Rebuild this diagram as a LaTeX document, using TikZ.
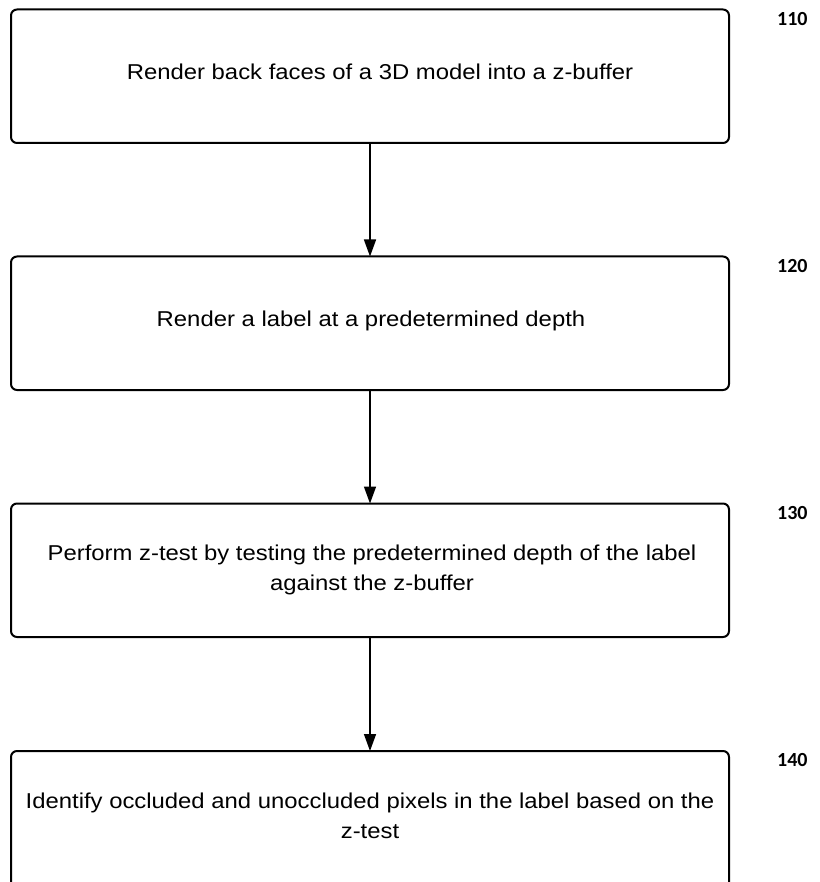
\documentclass[tikz,border=0pt]{standalone}
\usepackage{fontspec}
\setmainfont{Liberation Sans}
\newfontfamily\boxfont[FakeStretch=1.11]{Liberation Sans}
\newfontfamily\numfont{Carlito}
\usetikzlibrary{arrows.meta}
\begin{document}
\begin{tikzpicture}[x=1pt,y=-1pt,
  stepbox/.style={draw=black,line width=2pt,rounded corners=6pt},
  txt/.style={font=\boxfont\fontsize{21.5}{30}\selectfont,align=center,inner sep=0pt},
  num/.style={font=\numfont\bfseries\fontsize{20}{24}\selectfont,anchor=west,inner sep=0pt},
  arr/.style={line width=1.5pt,-{Triangle[length=17pt,width=12pt]}}]
\useasboundingbox (0,0) rectangle (819,882);
\begin{scope}
\clip (0,0) rectangle (819,882);
\draw[stepbox] (11,9.5) rectangle (729,143);
\draw[stepbox] (11,256.5) rectangle (729,390);
\draw[stepbox] (11,503.5) rectangle (729,637);
\draw[stepbox] (11,751) rectangle (729,890);
\end{scope}
\coordinate (b1b) at (370,143);
\coordinate (b2t) at (370,256.5);
\coordinate (b2b) at (370,390);
\coordinate (b3t) at (370,503.5);
\coordinate (b3b) at (370,637);
\coordinate (b4t) at (370,751);
\draw[arr] (b1b) -- (b2t);
\draw[arr] (b2b) -- (b3t);
\draw[arr] (b3b) -- (b4t);
\node[txt,anchor=base] (t1) at (380,79.3) {Render back faces of a 3D model into a z-buffer};
\node[txt,anchor=base] (t2) at (371,326.3) {Render a label at a predetermined depth};
\node[txt] (t3) at (372,569.5) {Perform z-test by testing the predetermined depth of the label\\against the z-buffer};
\node[txt] (t4) at (370,815.5) {Identify occluded and unoccluded pixels in the label based on the\\z-test};
\node[num] (n1) at (777,19) {110};
\node[num] (n2) at (777,266) {120};
\node[num] (n3) at (777,513) {130};
\node[num] (n4) at (777,760) {140};
\end{tikzpicture}
\end{document}
